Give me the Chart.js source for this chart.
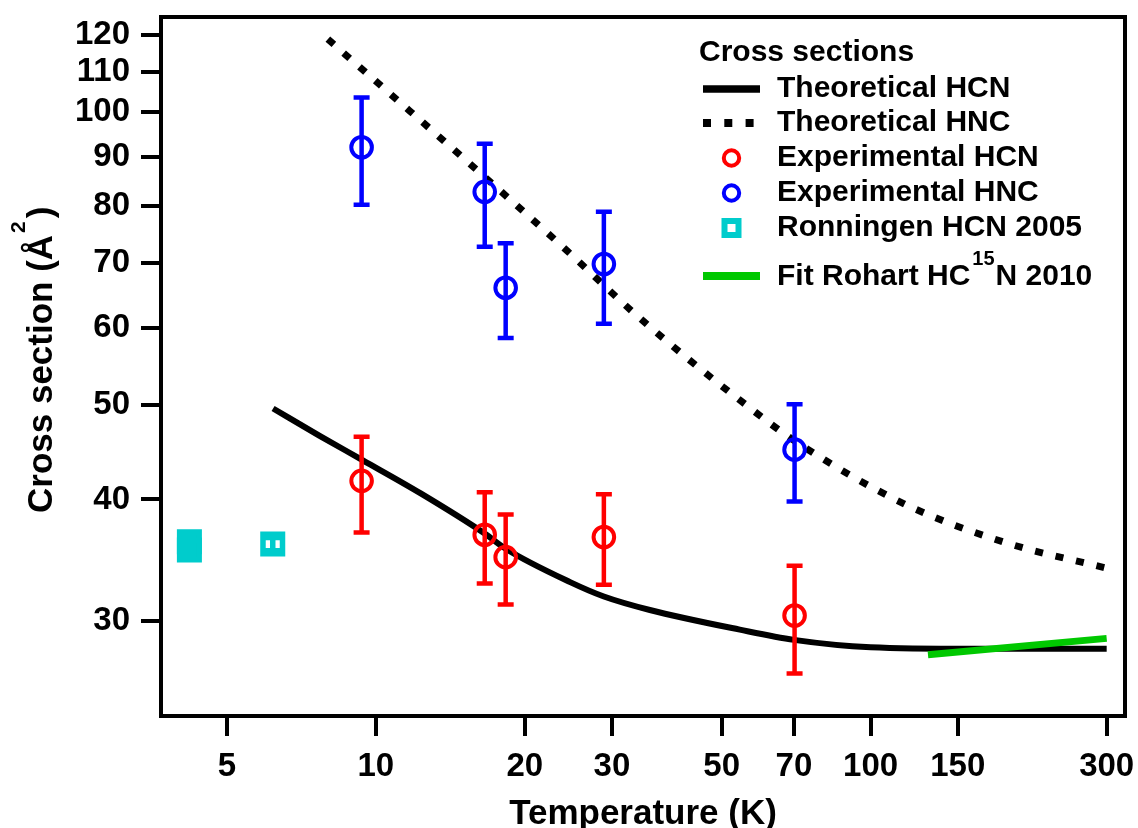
<!DOCTYPE html>
<html lang="en">
<head>
    <meta charset="UTF-8">
    <title>Cross sections</title>
    <script src="https://cdn.jsdelivr.net/npm/chart.js"></script>
    <style>
        body {
            margin: 0;
            background: #fff;
        }
        .chart-container {
            position: relative;
            width: 1138px;
            height: 828px;
        }
    </style>
</head>
<body>

    <div class="chart-container">
        <canvas id="chart"></canvas>
    </div>

    <script>
        // tick labels
        const xTicks = [5, 10, 20, 30, 50, 70, 100, 150, 300];
        const yTicks = [30, 40, 50, 60, 70, 80, 90, 100, 110, 120];

        // theoretical curves (T in K, cross section in Å²)
        const theoHcnT = [6.2, 7.7, 9.4, 12.3, 16.6, 18.3, 24.7, 28.9, 35.8, 54.4, 70, 100, 160, 300];
        const theoHcnSigma = [49.6, 46.5, 43.9, 40.6, 36.9, 35.6, 32.9, 31.8, 30.8, 29.4, 28.7, 28.2, 28.1, 28.1];

        const theoHncT = [8.0, 11.7, 15.25, 17.8, 24.3, 33.1, 43.1, 54.4, 70, 118, 188, 300];
        const theoHncSigma = [118.8, 100.3, 89.1, 83.1, 72.1, 62.3, 55.6, 50.6, 46.0, 39.5, 36.1, 34.0];

        // experimental points with error bars
        const expT = [9.36, 16.6, 18.3, 28.9, 70.2];
        const expHcnSigma = [41.8, 36.8, 34.9, 36.6, 30.4];
        const expHcnLow = [37.0, 32.8, 31.2, 32.7, 26.5];
        const expHcnHigh = [46.4, 40.7, 38.6, 40.5, 34.2];

        const expHncSigma = [92.0, 82.8, 66.0, 69.8, 45.0];
        const expHncLow = [80.3, 72.7, 58.6, 60.6, 39.8];
        const expHncHigh = [103.5, 92.8, 73.3, 79.0, 50.1];

        // Ronningen 2005
        const ronT = [4.2, 4.2, 6.19];
        const ronSigma = [36.2, 35.5, 36.0];
        const ronLow = [null, null, 35.43];
        const ronHigh = [null, null, 36.57];

        // Rohart 2010 fit
        const rohartT = [130.6, 300];
        const rohartSigma = [27.7, 28.8];

        const FONT = "'Liberation Sans', Arial, Helvetica, sans-serif";
        const RED = '#ff0000';
        const BLUE = '#0000ff';
        const CYAN = '#00cccc';
        const GREEN = '#00c800';

        function pts(xs, ys) {
            return xs.map((x, i) => ({ x: x, y: ys[i] }));
        }

        // error bars drawn through the chart scales
        const errorBars = {
            id: 'errorBars',
            afterDatasetsDraw(chart) {
                const ctx = chart.ctx;
                const xs = chart.scales.x, ys = chart.scales.y;
                ctx.save();
                chart.data.datasets.forEach(ds => {
                    if (!ds.errLow) return;
                    ctx.strokeStyle = ds.borderColor;
                    ctx.lineWidth = ds.errWidth || 4.5;
                    ds.data.forEach((p, i) => {
                        if (ds.errLow[i] == null) return;
                        const px = xs.getPixelForValue(p.x);
                        const lo = ys.getPixelForValue(ds.errLow[i]);
                        const hi = ys.getPixelForValue(ds.errHigh[i]);
                        ctx.beginPath();
                        ctx.moveTo(px, lo);
                        ctx.lineTo(px, hi);
                        ctx.moveTo(px - 8, lo);
                        ctx.lineTo(px + 8, lo);
                        ctx.moveTo(px - 8, hi);
                        ctx.lineTo(px + 8, hi);
                        ctx.stroke();
                    });
                });
                ctx.restore();
            }
        };

        // frame, axis titles and legend
        const decorations = {
            id: 'decorations',
            afterDraw(chart) {
                const ctx = chart.ctx;
                const a = chart.chartArea;
                ctx.save();

                // top and right sides of the box
                ctx.strokeStyle = '#000';
                ctx.lineWidth = 4;
                ctx.lineCap = 'square';
                ctx.beginPath();
                ctx.moveTo(a.left, a.top);
                ctx.lineTo(a.right, a.top);
                ctx.lineTo(a.right, a.bottom);
                ctx.stroke();

                ctx.fillStyle = '#000';

                // x title
                ctx.font = 'bold 35px ' + FONT;
                ctx.textAlign = 'center';
                ctx.textBaseline = 'alphabetic';
                ctx.fillText('Temperature (K)', (a.left + a.right) / 2, 824);

                // y title with superscript
                ctx.save();
                ctx.translate(52, 513);
                ctx.rotate(-Math.PI / 2);
                ctx.textAlign = 'left';
                ctx.font = 'bold 35px ' + FONT;
                const t1 = 'Cross section (Å';
                ctx.fillText(t1, 0, 0);
                let w = ctx.measureText(t1).width;
                ctx.font = 'bold 21px ' + FONT;
                ctx.fillText('2', w + 2, -27);
                w += ctx.measureText('2').width + 5;
                ctx.font = 'bold 35px ' + FONT;
                ctx.fillText(')', w, 0);
                ctx.restore();

                // legend
                const tx = 777, mx = 731.5, s0 = 703, s1 = 760;
                ctx.textAlign = 'left';
                ctx.textBaseline = 'middle';
                ctx.font = 'bold 30px ' + FONT;
                ctx.fillText('Cross sections', 699, 53);

                ctx.lineCap = 'butt';
                ctx.strokeStyle = '#000';
                ctx.lineWidth = 7.5;
                ctx.beginPath();
                ctx.moveTo(s0, 89); ctx.lineTo(s1, 89);
                ctx.stroke();
                ctx.fillText('Theoretical HCN', tx, 89);

                ctx.lineWidth = 8;
                ctx.setLineDash([8, 13.3]);
                ctx.beginPath();
                ctx.moveTo(s0, 123); ctx.lineTo(s1, 123);
                ctx.stroke();
                ctx.setLineDash([]);
                ctx.fillText('Theoretical HNC', tx, 123);

                ctx.lineWidth = 4;
                ctx.strokeStyle = RED;
                ctx.beginPath();
                ctx.arc(mx, 158, 7.7, 0, Math.PI * 2);
                ctx.stroke();
                ctx.fillText('Experimental HCN', tx, 158);

                ctx.strokeStyle = BLUE;
                ctx.beginPath();
                ctx.arc(mx, 193, 7.7, 0, Math.PI * 2);
                ctx.stroke();
                ctx.fillText('Experimental HNC', tx, 193);

                ctx.strokeStyle = CYAN;
                ctx.lineWidth = 6;
                ctx.strokeRect(mx - 7, 228 - 7, 14, 14);
                ctx.fillText('Ronningen HCN 2005', tx, 228);

                ctx.strokeStyle = GREEN;
                ctx.lineWidth = 8;
                ctx.beginPath();
                ctx.moveTo(s0, 276); ctx.lineTo(s1, 276);
                ctx.stroke();
                ctx.textBaseline = 'alphabetic';
                const f1 = 'Fit Rohart HC';
                ctx.fillText(f1, tx, 285);
                let fw = tx + ctx.measureText(f1).width + 2;
                ctx.font = 'bold 20px ' + FONT;
                ctx.fillText('15', fw, 265);
                fw += ctx.measureText('15').width + 1;
                ctx.font = 'bold 30px ' + FONT;
                ctx.fillText('N 2010', fw, 285);

                ctx.restore();
            }
        };

        function axisFit(scale) {
            if (scale.axis === 'x') {
                scale.height = 828 - 716;
            } else {
                scale.width = 161;
            }
            scale.paddingLeft = 0;
            scale.paddingRight = 0;
            scale.paddingTop = 0;
            scale.paddingBottom = 0;
        }

        const tickFont = { family: FONT, size: 33, weight: 'bold' };
        const gridOpts = { drawOnChartArea: false, drawTicks: true, tickLength: 20, lineWidth: 4, color: '#000' };

        new Chart(document.getElementById('chart'), {
            type: 'scatter',
            data: {
                datasets: [
                    {
                        label: 'Theoretical HCN',
                        data: pts(theoHcnT, theoHcnSigma),
                        showLine: true,
                        borderColor: '#000',
                        borderWidth: 6,
                        pointRadius: 0,
                        cubicInterpolationMode: 'monotone',
                        order: 5
                    },
                    {
                        label: 'Theoretical HNC',
                        data: pts(theoHncT, theoHncSigma),
                        showLine: true,
                        borderColor: '#000',
                        borderWidth: 7,
                        borderDash: [8, 13],
                        pointRadius: 0,
                        cubicInterpolationMode: 'monotone',
                        order: 4
                    },
                    {
                        label: 'Fit Rohart HC15N 2010',
                        data: pts(rohartT, rohartSigma),
                        showLine: true,
                        borderColor: GREEN,
                        borderWidth: 7,
                        pointRadius: 0,
                        order: 3
                    },
                    {
                        label: 'Ronningen HCN 2005',
                        data: pts(ronT, ronSigma),
                        pointStyle: 'rect',
                        pointRadius: 13.8,
                        borderWidth: 5.5,
                        borderColor: CYAN,
                        backgroundColor: ctx => (ronLow[ctx.dataIndex] == null ? CYAN : 'rgba(0,0,0,0)'),
                        errLow: ronLow,
                        errHigh: ronHigh,
                        errWidth: 5.5,
                        order: 2
                    },
                    {
                        label: 'Experimental HCN',
                        data: pts(expT, expHcnSigma),
                        pointStyle: 'circle',
                        pointRadius: 10.3,
                        borderWidth: 4,
                        borderColor: RED,
                        backgroundColor: 'rgba(0,0,0,0)',
                        errLow: expHcnLow,
                        errHigh: expHcnHigh,
                        order: 1
                    },
                    {
                        label: 'Experimental HNC',
                        data: pts(expT, expHncSigma),
                        pointStyle: 'circle',
                        pointRadius: 10.3,
                        borderWidth: 4,
                        borderColor: BLUE,
                        backgroundColor: 'rgba(0,0,0,0)',
                        errLow: expHncLow,
                        errHigh: expHncHigh,
                        order: 0
                    }
                ]
            },
            options: {
                responsive: true,
                maintainAspectRatio: false,
                animation: false,
                events: [],
                layout: {
                    autoPadding: false,
                    padding: { top: 17, right: 13, left: 0, bottom: 0 }
                },
                plugins: {
                    legend: { display: false },
                    tooltip: { enabled: false }
                },
                scales: {
                    x: {
                        type: 'logarithmic',
                        position: 'bottom',
                        min: 3.68,
                        max: 326.7,
                        afterBuildTicks: s => { s.ticks = xTicks.map(v => ({ value: v })); },
                        afterFit: axisFit,
                        ticks: {
                            callback: v => String(v),
                            font: tickFont,
                            color: '#000',
                            padding: 11,
                            autoSkip: false,
                            maxRotation: 0
                        },
                        grid: gridOpts,
                        border: { display: true, width: 4, color: '#000' }
                    },
                    y: {
                        type: 'logarithmic',
                        position: 'left',
                        min: 23.97,
                        max: 125.2,
                        afterBuildTicks: s => { s.ticks = yTicks.map(v => ({ value: v })); },
                        afterFit: axisFit,
                        ticks: {
                            callback: v => String(v),
                            font: tickFont,
                            color: '#000',
                            padding: 11,
                            autoSkip: false
                        },
                        grid: gridOpts,
                        border: { display: true, width: 4, color: '#000' }
                    }
                }
            },
            plugins: [errorBars, decorations]
        });
    </script>

</body>
</html>
